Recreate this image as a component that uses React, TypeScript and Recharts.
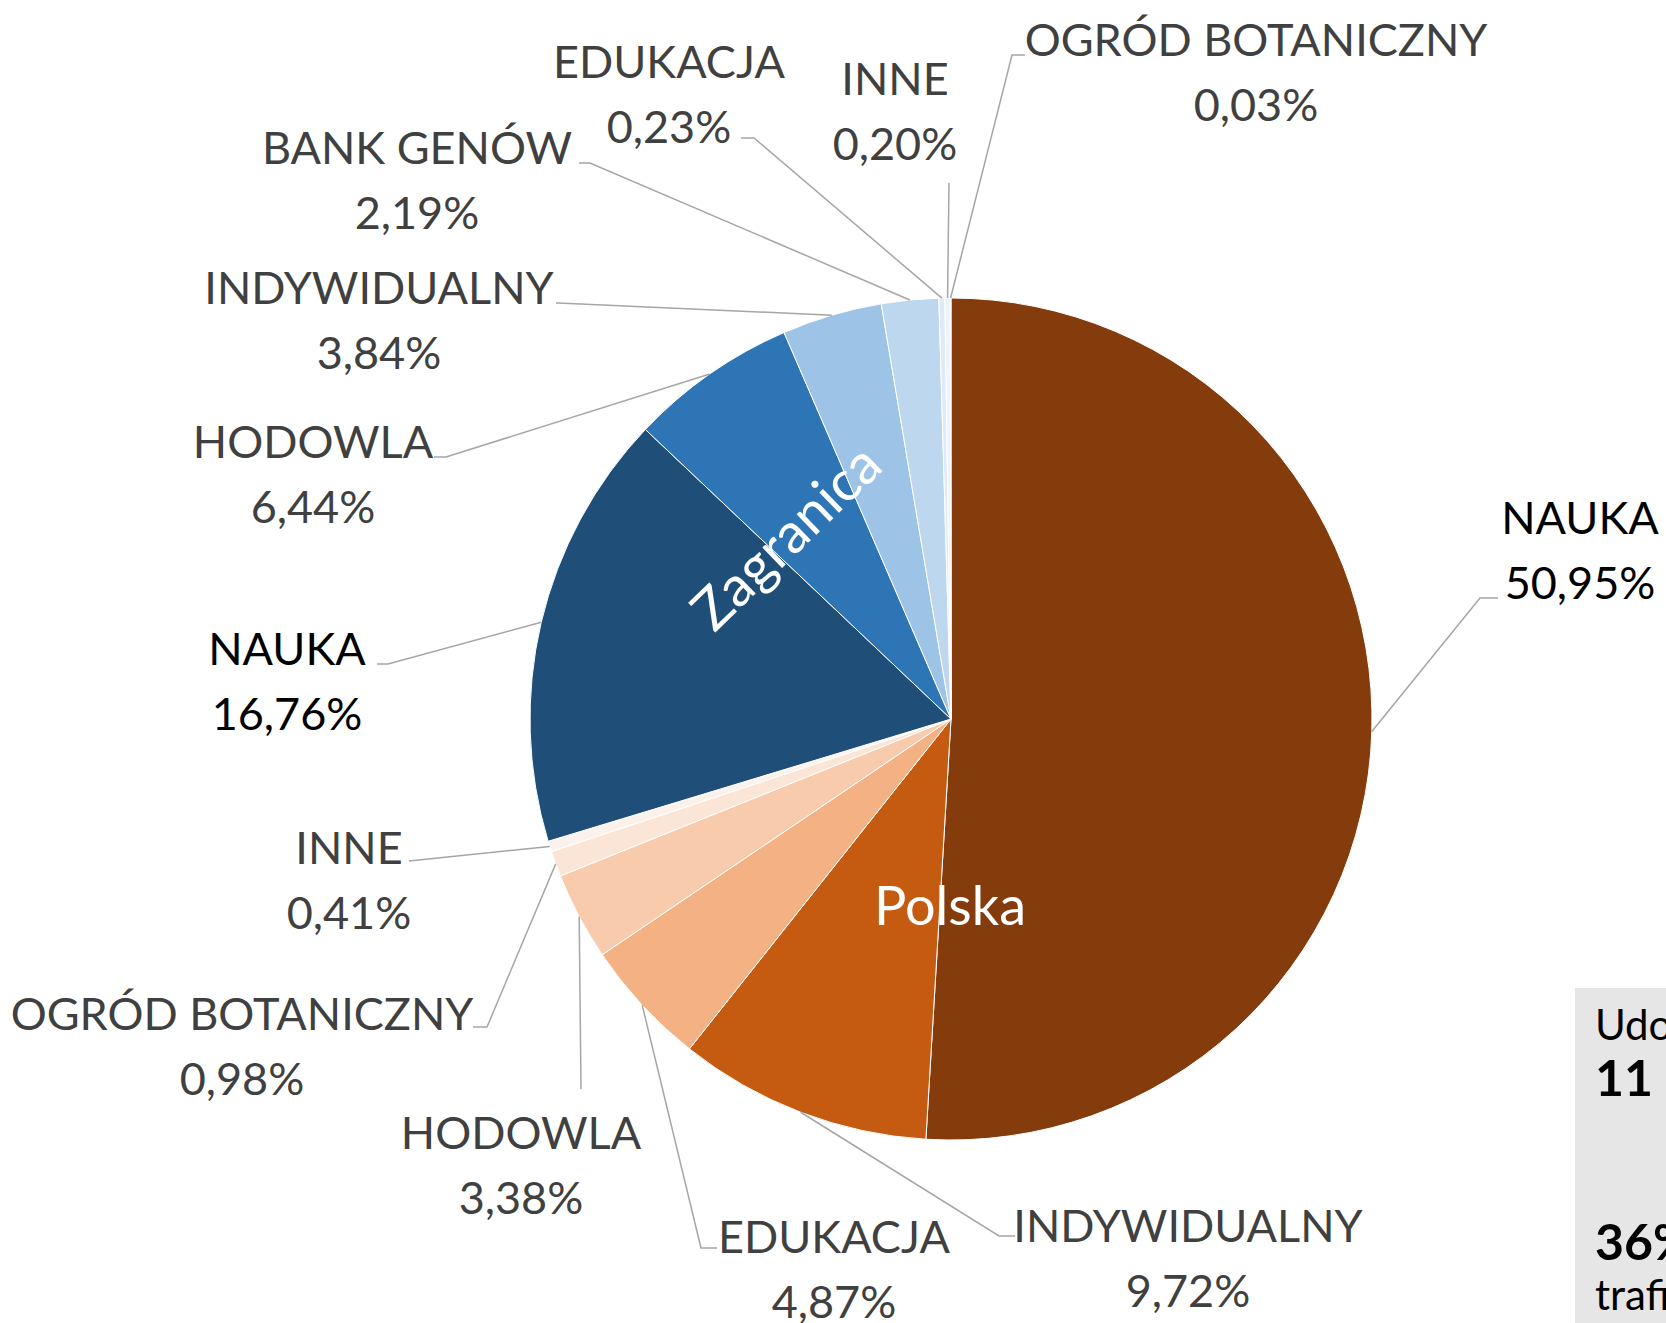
import React from 'react';
import { PieChart, Pie, Cell } from 'recharts';

// Polska first (clockwise from 12 o'clock), then Zagranica
const categories = [
  'NAUKA', 'INDYWIDUALNY', 'EDUKACJA', 'HODOWLA', 'OGRÓD BOTANICZNY', 'INNE',
  'NAUKA', 'HODOWLA', 'INDYWIDUALNY', 'BANK GENÓW', 'EDUKACJA', 'INNE', 'OGRÓD BOTANICZNY',
];
const shares = [50.95, 9.72, 4.87, 3.38, 0.98, 0.41, 16.76, 6.44, 3.84, 2.19, 0.23, 0.2, 0.03];
const shareLabels = [
  '50,95%', '9,72%', '4,87%', '3,38%', '0,98%', '0,41%',
  '16,76%', '6,44%', '3,84%', '2,19%', '0,23%', '0,20%', '0,03%',
];
const groups = ['Polska', 'Zagranica'];

const colors = [
  '#843C0C', '#C55A11', '#F4B183', '#F8CBAD', '#FBE5D6', '#FDF2EB',
  '#1F4E79', '#2E75B6', '#9DC3E6', '#BDD7EE', '#DEEBF7', '#EBF3FB', '#F5F9FD',
];

const data = categories.map((name, i) => ({ name, value: shares[i], label: shareLabels[i] }));

// label layout: text centre x, first line y, elbow point, end point of leader
const labelLayout = [
  { x: 1580, y: 517, elbow: [1480, 598], end: [1498, 598], color: '#000' },
  { x: 1188, y: 1225, elbow: [999, 1236], end: [1015, 1236] },
  { x: 834, y: 1236, elbow: [701, 1248], end: [717, 1248] },
  { x: 521, y: 1132, elbow: [581, 1089], end: [581, 1089] },
  { x: 242, y: 1013, elbow: [487, 1027], end: [473, 1027] },
  { x: 349, y: 847, elbow: [409, 861], end: [409, 861] },
  { x: 287, y: 648, elbow: [388, 664], end: [377, 664], color: '#000' },
  { x: 313, y: 441, elbow: [446, 457], end: [434, 457] },
  { x: 379, y: 287, elbow: [558, 303], end: [556, 303] },
  { x: 417, y: 147, elbow: [590, 163], end: [579, 163] },
  { x: 669, y: 61, elbow: [754, 138], end: [741, 138] },
  { x: 895, y: 78, elbow: [949, 183], end: [949, 183] },
  { x: 1256, y: 39, elbow: [1012, 55], end: [1025, 55] },
];

const FONT = 'Lato, "Open Sans", sans-serif';
const RAD = Math.PI / 180;

const renderLabel = (props: any) => {
  const { index, cx, cy, midAngle, outerRadius } = props;
  const l = labelLayout[index];
  const sx = cx + outerRadius * Math.cos(-midAngle * RAD);
  const sy = cy + outerRadius * Math.sin(-midAngle * RAD);
  return (
    <g key={`lbl-${index}`}>
      <polyline
        points={`${sx},${sy} ${l.elbow[0]},${l.elbow[1]} ${l.end[0]},${l.end[1]}`}
        fill="none"
        stroke="#A6A6A6"
        strokeWidth={1.5}
      />
      <text
        x={l.x}
        y={l.y}
        textAnchor="middle"
        dominantBaseline="central"
        fontFamily={FONT}
        fontSize={45}
        fill={l.color || '#404040'}
      >
        {data[index].name}
      </text>
      <text
        x={l.x}
        y={l.y + 65}
        textAnchor="middle"
        dominantBaseline="central"
        fontFamily={FONT}
        fontSize={45}
        fill={l.color || '#404040'}
      >
        {data[index].label}
      </text>
    </g>
  );
};

const titleStyle: React.CSSProperties = {
  position: 'absolute',
  fontFamily: FONT,
  color: '#fff',
  whiteSpace: 'nowrap',
  lineHeight: 1,
  transform: 'translate(-50%, -50%)',
};

export default function App() {
  return (
    <div style={{ position: 'absolute', left: 0, top: 0, width: 1666, height: 1323, background: '#fff', overflow: 'hidden' }}>
      <PieChart width={1666} height={1323} margin={{ top: 0, right: 0, bottom: 0, left: 0 }}>
        <Pie
          data={data}
          dataKey="value"
          nameKey="name"
          cx={951}
          cy={719}
          outerRadius={421}
          startAngle={90}
          endAngle={-270}
          stroke="#fff"
          strokeWidth={1}
          label={renderLabel}
          labelLine={false}
          isAnimationActive={false}
        >
          {data.map((d, i) => (
            <Cell key={i} fill={colors[i]} />
          ))}
        </Pie>
      </PieChart>
      <div style={{ ...titleStyle, left: 950, top: 905, fontSize: 54 }}>{groups[0]}</div>
      <div style={{ ...titleStyle, left: 785, top: 536, fontSize: 56, transform: 'translate(-50%, -50%) rotate(-44deg)' }}>
        {groups[1]}
      </div>
      <div
        style={{
          position: 'absolute',
          left: 1575,
          top: 988,
          width: 300,
          height: 400,
          background: '#E7E6E6',
          fontFamily: FONT,
          color: '#000',
          whiteSpace: 'nowrap',
        }}
      >
        <div style={{ position: 'absolute', left: 20, top: 12, fontSize: 42, lineHeight: '48px' }}>Udostępniono</div>
        <div style={{ position: 'absolute', left: 20, top: 62, fontSize: 50, lineHeight: '54px', fontWeight: 700 }}>11 370</div>
        <div style={{ position: 'absolute', left: 20, top: 226, fontSize: 50, lineHeight: '54px', fontWeight: 700 }}>36%</div>
        <div style={{ position: 'absolute', left: 20, top: 282, fontSize: 42, lineHeight: '48px' }}>trafiło</div>
      </div>
    </div>
  );
}
